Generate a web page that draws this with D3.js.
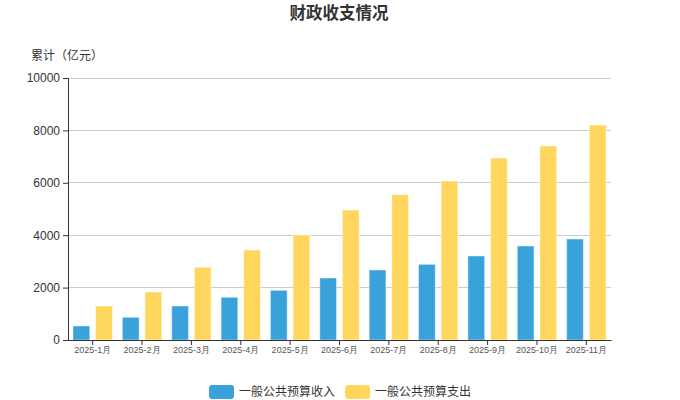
<!DOCTYPE html>
<html><head><meta charset="utf-8">
<script src="https://cdn.jsdelivr.net/npm/d3@7"></script>
<style>body{margin:0;background:#fff;font-family:"Noto Sans CJK SC","Noto Sans",sans-serif;}</style>
</head><body>
<svg id="c" width="680" height="400"></svg>
<script>
const categories = ["2025-1月","2025-2月","2025-3月","2025-4月","2025-5月","2025-6月","2025-7月","2025-8月","2025-9月","2025-10月","2025-11月"];
const seriesNames = ["一般公共预算收入","一般公共预算支出"];
const revenue = [534, 866, 1298, 1629, 1896, 2366, 2672, 2888, 3206, 3588, 3855];
const expenditure = [1298, 1832, 2775, 3435, 4008, 4962, 5547, 6069, 6947, 7405, 8206];
const yTicks = [0, 2000, 4000, 6000, 8000, 10000];
const colors = ["#3aa2da", "#ffd75e"];

(function () {
const svg = d3.select("#c");
const pL = 68, pR = 611, pT = 78, pB = 340;
const x = d3.scaleBand().domain(categories).range([pL, pR]);
const x1 = d3.scaleBand().domain([0,1]).range([0, x.bandwidth()]).paddingInner(0.26).paddingOuter(0.22);
const y = d3.scaleLinear().domain([0, 10000]).range([pB, pT]);

svg.append("text").attr("x", 339).attr("y", 19).attr("text-anchor", "middle")
  .attr("font-size", 16.5).attr("font-weight", "bold").attr("fill", "#333").text("财政收支情况");
svg.append("text").attr("x", 31).attr("y", 60).attr("font-size", 12).attr("fill", "#333").text("累计（亿元）");

svg.append("g").selectAll("line").data(yTicks.filter(d => d > 0)).join("line")
  .attr("x1", pL).attr("x2", pR).attr("y1", d => y(d)).attr("y2", d => y(d))
  .attr("stroke", "#ccc").attr("stroke-width", 1).attr("shape-rendering", "crispEdges");

const data = [revenue, expenditure];
data.forEach((vals, si) => {
  svg.append("g").selectAll("rect").data(vals).join("rect")
    .attr("x", (d, i) => x(categories[i]) + x1(si))
    .attr("width", x1.bandwidth())
    .attr("y", d => y(d))
    .attr("height", d => pB - y(d))
    .attr("fill", colors[si])
    .attr("stroke", "rgba(255,255,255,0.45)").attr("stroke-width", 1);
});

const ya = svg.append("g").attr("transform", `translate(${pL},0)`)
  .call(d3.axisLeft(y).tickValues(yTicks).tickFormat(d3.format("d")).tickSize(5).tickPadding(3));
ya.select(".domain").attr("stroke", "#333");
ya.selectAll(".tick line").attr("stroke", "#333");
ya.selectAll("text").attr("font-size", 12).attr("fill", "#333").attr("font-family", "Liberation Sans, Arial, sans-serif");

const xa = svg.append("g").attr("transform", `translate(0,${pB})`)
  .call(d3.axisBottom(x).tickSize(5).tickPadding(2).tickSizeOuter(0));
xa.select(".domain").attr("stroke", "#333");
xa.selectAll(".tick line").attr("stroke", "#333");
xa.selectAll("text").attr("font-size", 9).attr("fill", "#555");

const legend = svg.append("g");
const lx = [209, 345];
seriesNames.forEach((n, i) => {
  legend.append("rect").attr("x", lx[i]).attr("y", 385).attr("width", 25).attr("height", 14).attr("rx", 3)
    .attr("fill", colors[i]);
  legend.append("text").attr("x", lx[i] + 30).attr("y", 396).attr("font-size", 12).attr("fill", "#333").text(n);
});
})();
</script>
</body></html>
